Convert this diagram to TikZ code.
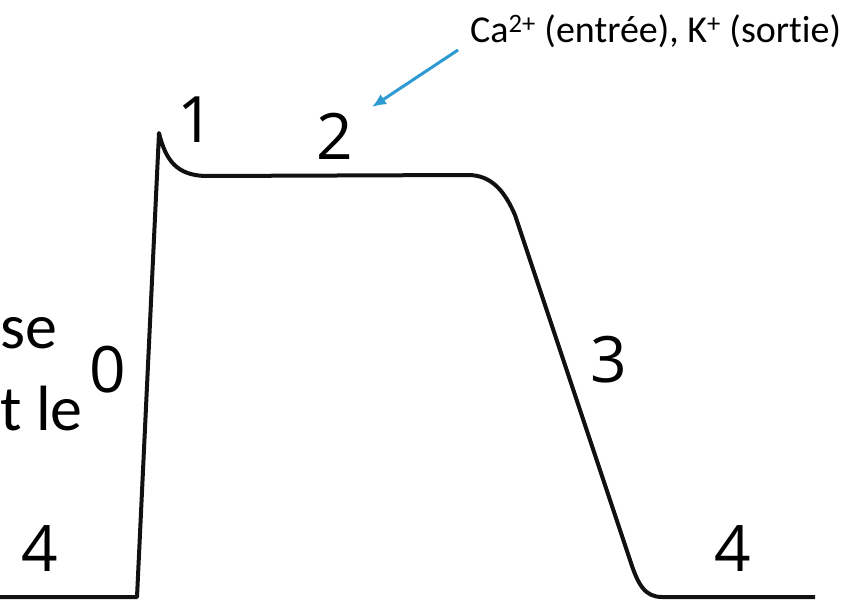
\documentclass[tikz,border=0pt]{standalone}
\usepackage{fontspec}
\setmainfont[Ligatures=NoCommon]{Carlito}
\newfontfamily\digitfont{Open Sans}
\usepackage{tikz}
\usetikzlibrary{arrows.meta}
\definecolor{apBlue}{HTML}{2E9AD2}
\definecolor{apLine}{HTML}{111111}

\begin{document}
\begin{tikzpicture}[x=1pt,y=-1pt]
  \useasboundingbox (0,0) rectangle (846,605);
  % action potential curve
  \draw[apLine,line width=4pt,line join=round]
    (-5,597) -- (137,597) -- (159,133)
    .. controls (166,162) and (178,175) .. (205,176) -- (468,175)
    .. controls (492,175) and (505,192) .. (515,215)
    -- (630,560) .. controls (638,585) and (645,597) .. (662,597) -- (815,597);
  % phase numbers
  \node[font=\digitfont\fontsize{64}{64}\selectfont] (ph0) at (108,370) {0};
  \node[font=\digitfont\fontsize{64}{64}\selectfont] (ph1) at (196,120) {1};
  \node[font=\digitfont\fontsize{64}{64}\selectfont] (ph2) at (335,136) {2};
  \node[font=\digitfont\fontsize{64}{64}\selectfont] (ph3) at (609,360) {3};
  \node[font=\digitfont\fontsize{64}{64}\selectfont] (ph4l) at (40,549) {4};
  \node[font=\digitfont\fontsize{64}{64}\selectfont] (ph4r) at (733,549) {4};
  % cut text on the left
  \node[anchor=base,font=\fontsize{64}{64}\selectfont] (cutg) at (27,-10) {g};
  \node[anchor=base west,font=\fontsize{64}{64}\selectfont,inner sep=0pt] (cutse) at (0,348) {se};
  \node[anchor=base west,font=\fontsize{64}{64}\selectfont,inner sep=0pt] (cutle) at (0,430) {t le};
  % ions label
  \node[anchor=base west,inner sep=0pt,font=\fontsize{38}{38}\selectfont] (ions) at (470,42) {Ca\textsuperscript{2+} (entrée), K\textsuperscript{+} (sortie)};
  \coordinate (tail) at (458,50);
  \coordinate (tip) at (372,107);
  \draw[-{Latex[length=14pt,width=12pt]},apBlue,line width=3pt] (tail) -- (tip);
\end{tikzpicture}
\end{document}
